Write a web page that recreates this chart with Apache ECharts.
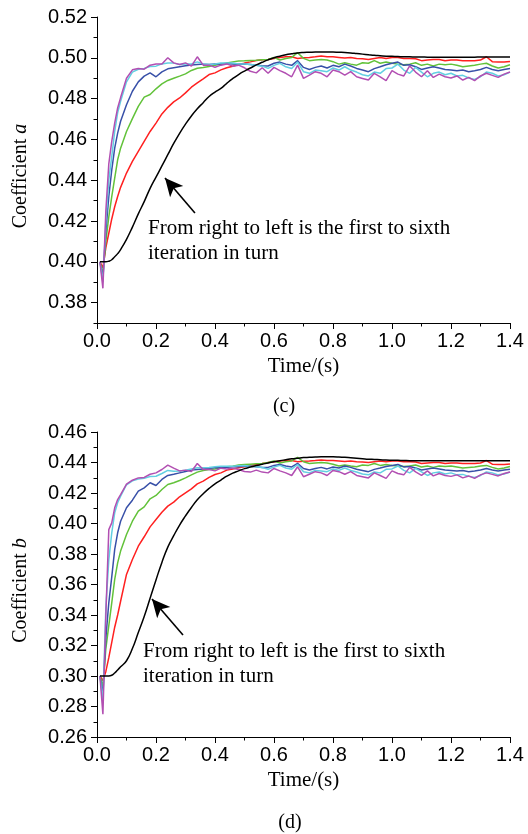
<!DOCTYPE html>
<html>
<head>
<meta charset="utf-8">
<script src="https://cdn.jsdelivr.net/npm/echarts@6/dist/echarts.min.js"></script>
<style>
  html, body { margin: 0; padding: 0; background: #fff; }
  #chart { width: 528px; height: 834px; }
</style>
</head>
<body>
<div id="chart"></div>
<script>
// time axis (s), shared by every curve
const time = [0.01,0.02,0.03,0.04,0.05,0.06,0.07,0.08,
  0.10,0.12,0.14,0.16,0.18,0.20,0.22,0.24,0.26,0.28,0.30,0.32,0.34,0.36,0.38,0.40,0.42,0.44,0.46,0.48,0.50,0.52,0.54,0.56,
  0.58,0.60,0.62,0.64,0.66,0.68,0.70,0.72,0.74,0.76,0.78,0.80,0.82,0.84,0.86,0.88,0.90,0.92,0.94,0.96,0.98,
  1.00,1.02,1.04,1.06,1.08,1.10,1.12,1.14,1.16,1.18,1.20,1.22,1.24,1.26,1.28,1.30,1.32,1.34,1.36,1.38,1.40]

const xTicks = [0, 1.4, 0.2]

// (c) coefficient a, iterations 1..6
const a1 = [0.400,0.400,0.400,0.4003,0.401,0.4025,0.404,0.406,
  0.411,0.417,0.4235,0.4295,0.436,0.4415,0.447,0.4525,0.458,0.463,0.4675,0.4715,0.475,0.478,0.481,0.4832,0.485,0.4875,0.4898,0.4918,0.4935,0.495,0.4965,0.4978,
  0.499,0.5,0.5008,0.5015,0.502,0.5024,0.5026,0.5027,0.5028,0.5028,0.5028,0.5028,0.5027,0.5026,0.5024,0.5021,0.5018,0.5015,0.5012,0.501,0.5008,
  0.5007,0.5006,0.5005,0.5005,0.5004,0.5004,0.5003,0.5003,0.5003,0.5003,0.5003,0.5003,0.5003,0.5003,0.5003,0.5004,0.5004,0.5004,0.5004,0.5004,0.5004]
const a2 = [0.400,0.397,0.407,0.414,0.421,0.427,0.432,0.4365,
  0.4435,0.4492,0.4541,0.459,0.4639,0.468,0.4725,0.4757,0.4784,0.4803,0.4828,0.4856,0.4877,0.4897,0.4918,0.4926,0.4941,0.4951,0.4959,0.4967,0.4974,0.498,0.4987,0.499,
  0.4992,0.4997,0.5002,0.5005,0.5005,0.4997,0.5000,0.5002,0.5005,0.5009,0.5005,0.5005,0.5002,0.4999,0.5002,0.4997,0.4995,0.4992,0.4997,0.5002,0.4997,
  0.5002,0.5002,0.4997,0.4997,0.4995,0.4986,0.4989,0.4992,0.4992,0.4986,0.4989,0.4989,0.4986,0.4986,0.4986,0.4989,0.5005,0.4981,0.4979,0.4979,0.4982]
const a3 = [0.400,0.394,0.410,0.422,0.432,0.441,0.450,0.4557,
  0.4639,0.4702,0.4762,0.4807,0.482,0.4848,0.4872,0.4889,0.49,0.491,0.4921,0.4938,0.4949,0.4952,0.4957,0.4964,0.497,0.4975,0.498,0.4984,0.4985,0.4987,0.4988,0.499,
  0.4992,0.5002,0.4989,0.4997,0.5002,0.5025,0.4997,0.4986,0.4989,0.4992,0.4989,0.4981,0.4969,0.4976,0.4969,0.4964,0.4976,0.4973,0.4986,0.4973,0.4979,
  0.4973,0.4969,0.4966,0.4969,0.4976,0.4963,0.4969,0.4960,0.4969,0.4966,0.4969,0.4963,0.4956,0.4960,0.4963,0.4969,0.4973,0.4960,0.4950,0.4956,0.4966]
const a4 = [0.400,0.392,0.415,0.432,0.445,0.4557,0.4631,0.4689,
  0.477,0.4836,0.4882,0.491,0.4926,0.4907,0.4931,0.4946,0.4951,0.4956,0.4961,0.4965,0.4967,0.4969,0.4967,0.497,0.4969,0.4972,0.497,0.4968,0.497,0.4967,0.4964,0.4961,
  0.4960,0.4973,0.4979,0.4969,0.4963,0.4986,0.4953,0.4943,0.4953,0.4960,0.4950,0.4963,0.4956,0.4969,0.4960,0.4948,0.4940,0.4932,0.4947,0.4956,0.4966,
  0.4973,0.4979,0.4963,0.4966,0.4956,0.4943,0.4950,0.4956,0.4950,0.4943,0.4940,0.4937,0.4940,0.4932,0.4937,0.4943,0.4953,0.4943,0.4937,0.4943,0.4948]
const a5 = [0.400,0.390,0.420,0.440,0.4516,0.4639,0.473,0.4787,
  0.4882,0.493,0.4944,0.4948,0.4957,0.4959,0.497,0.4975,0.4974,0.4967,0.497,0.497,0.498,0.497,0.4967,0.497,0.4975,0.4975,0.4975,0.497,0.497,0.4967,0.4964,0.4959,
  0.4948,0.4963,0.4973,0.4956,0.4948,0.4979,0.4932,0.4924,0.4940,0.4937,0.4932,0.4950,0.4940,0.4956,0.4940,0.4930,0.4917,0.4911,0.4930,0.4924,0.4947,
  0.4950,0.4969,0.4940,0.4924,0.4953,0.4930,0.4907,0.4924,0.4930,0.4917,0.4924,0.4911,0.4914,0.4901,0.4894,0.4907,0.4930,0.4924,0.4911,0.4917,0.4930]
const a6 = [0.400,0.387,0.425,0.448,0.459,0.468,0.4754,0.4805,
  0.490,0.4941,0.4948,0.4944,0.4964,0.497,0.497,0.500,0.4975,0.4967,0.4975,0.4959,0.5005,0.4964,0.4964,0.4954,0.4964,0.497,0.4959,0.4964,0.4951,0.4934,0.4926,0.4951,
  0.4924,0.4953,0.4937,0.4924,0.4907,0.4964,0.4899,0.4915,0.4932,0.4924,0.4907,0.4940,0.4932,0.4915,0.4932,0.4907,0.4899,0.4891,0.4924,0.4907,0.4888,
  0.4937,0.4920,0.4911,0.4960,0.4930,0.4907,0.4937,0.4904,0.4920,0.4907,0.4901,0.4911,0.4891,0.4904,0.4888,0.4911,0.4924,0.4914,0.4904,0.4920,0.4930]

// (d) coefficient b, iterations 1..6
const b1 = [0.300,0.300,0.300,0.300,0.3005,0.302,0.304,0.306,
  0.310,0.318,0.3285,0.339,0.351,0.363,0.3745,0.3845,0.392,0.399,0.405,0.4105,0.4155,0.4195,0.423,0.426,0.4285,0.431,0.433,0.4345,0.436,0.437,0.438,0.4388,
  0.4397,0.4405,0.4412,0.4418,0.4424,0.4428,0.4432,0.4434,0.4436,0.4437,0.4437,0.4437,0.4436,0.4434,0.4431,0.4428,0.4425,0.4422,0.442,0.4418,0.4416,
  0.4415,0.4414,0.4413,0.4412,0.4412,0.4412,0.4412,0.4412,0.4412,0.4412,0.4412,0.4412,0.4412,0.4412,0.4412,0.4412,0.4412,0.4412,0.4412,0.4412,0.4412]
const b2 = [0.300,0.297,0.303,0.312,0.322,0.332,0.340,0.349,
  0.3666,0.3764,0.3851,0.3913,0.3978,0.4026,0.4074,0.4114,0.414,0.4175,0.4201,0.4227,0.426,0.4278,0.4302,0.4321,0.4332,0.435,0.4358,0.4365,0.4372,0.438,0.4387,0.4393,
  0.4400,0.4405,0.4410,0.4413,0.4413,0.4405,0.4408,0.4410,0.4413,0.4417,0.4413,0.4413,0.4410,0.4407,0.4410,0.4405,0.4403,0.4400,0.4405,0.4410,0.4405,
  0.4410,0.4410,0.4405,0.4405,0.4403,0.4394,0.4397,0.4400,0.4400,0.4394,0.4397,0.4397,0.4394,0.4394,0.4394,0.4397,0.4413,0.4389,0.4387,0.4387,0.4390]
const b3 = [0.300,0.293,0.318,0.333,0.348,0.3633,0.3742,0.3819,
  0.3928,0.4015,0.4081,0.4109,0.4162,0.4184,0.4223,0.4256,0.4267,0.4282,0.4299,0.4319,0.4337,0.4348,0.4354,0.4358,0.4365,0.4372,0.4376,0.4383,0.4387,0.4389,0.4391,0.4393,
  0.4400,0.4410,0.4397,0.4405,0.4410,0.4433,0.4405,0.4394,0.4397,0.4400,0.4397,0.4389,0.4377,0.4384,0.4377,0.4372,0.4384,0.4381,0.4394,0.4381,0.4387,
  0.4381,0.4377,0.4374,0.4377,0.4384,0.4371,0.4377,0.4368,0.4377,0.4374,0.4377,0.4371,0.4364,0.4368,0.4371,0.4377,0.4381,0.4368,0.4358,0.4364,0.4374]
const b4 = [0.300,0.288,0.325,0.348,0.365,0.383,0.3939,0.4015,
  0.4103,0.4153,0.4212,0.4234,0.4267,0.4249,0.4289,0.4315,0.4323,0.4332,0.4341,0.435,0.4354,0.4358,0.4362,0.4365,0.4365,0.4369,0.4372,0.4372,0.4376,0.4376,0.4372,0.4368,
  0.4368,0.4381,0.4387,0.4377,0.4371,0.4394,0.4361,0.4351,0.4361,0.4368,0.4358,0.4371,0.4364,0.4377,0.4368,0.4356,0.4348,0.4340,0.4355,0.4364,0.4374,
  0.4381,0.4387,0.4371,0.4374,0.4364,0.4351,0.4358,0.4364,0.4358,0.4351,0.4348,0.4345,0.4348,0.4340,0.4345,0.4351,0.4361,0.4351,0.4345,0.4351,0.4356]
const b5 = [0.300,0.283,0.345,0.376,0.3939,0.407,0.4136,0.4179,
  0.4254,0.428,0.4291,0.4297,0.4308,0.431,0.4328,0.4348,0.4343,0.4345,0.435,0.4358,0.4365,0.4365,0.4367,0.4372,0.4376,0.4376,0.4376,0.4378,0.438,0.4376,0.4372,0.4367,
  0.4356,0.4371,0.4381,0.4364,0.4356,0.4387,0.4340,0.4332,0.4348,0.4345,0.4340,0.4358,0.4348,0.4364,0.4348,0.4338,0.4325,0.4319,0.4338,0.4332,0.4355,
  0.4358,0.4377,0.4348,0.4332,0.4361,0.4338,0.4315,0.4332,0.4338,0.4325,0.4332,0.4319,0.4322,0.4309,0.4302,0.4315,0.4338,0.4332,0.4319,0.4325,0.4338]
const b6 = [0.300,0.275,0.340,0.396,0.4004,0.4103,0.4157,0.419,
  0.4258,0.4284,0.4299,0.4302,0.4323,0.4332,0.4354,0.4383,0.4363,0.4345,0.435,0.4341,0.4393,0.4354,0.4354,0.4345,0.4363,0.4358,0.4363,0.4354,0.4341,0.4337,0.435,0.4337,
  0.4332,0.4361,0.4345,0.4332,0.4315,0.4372,0.4307,0.4323,0.4340,0.4332,0.4315,0.4348,0.4340,0.4323,0.4340,0.4315,0.4307,0.4299,0.4332,0.4315,0.4296,
  0.4345,0.4328,0.4319,0.4368,0.4338,0.4315,0.4345,0.4312,0.4328,0.4315,0.4309,0.4319,0.4299,0.4312,0.4296,0.4319,0.4332,0.4322,0.4312,0.4328,0.4338]

// y tick labels of panel (c) (axis starts at 0.37)
const yTicksA = [0.38, 0.40, 0.42, 0.44, 0.46, 0.48, 0.50, 0.52]
const yMinorA = [0.37, 0.39, 0.41, 0.43, 0.45, 0.47, 0.49, 0.51]

// arrow annotation: [tail, head] in data units
const arrowA = [[0.332, 0.4239], [0.2305, 0.4411]]
const arrowB = [[0.2915, 0.3269], [0.1864, 0.3505]]

const colors = ['#000000', '#ff2020', '#62c23a', '#3850a8', '#62cfe2', '#b24fb2']
const note = 'From right to left is the first to sixth\niteration in turn'

const pairs = (vals) => time.map((t, i) => [t, vals[i]])
const sans = 'Liberation Sans, Arial, sans-serif'
const serif = 'Liberation Serif, Times New Roman, serif'

function xAxisOf(idx) {
  return {
    type: 'value', gridIndex: idx, min: xTicks[0], max: xTicks[1], interval: xTicks[2],
    name: 'Time/(s)', nameLocation: 'middle', nameGap: 33,
    nameTextStyle: { fontFamily: serif, fontSize: 21, color: '#000' },
    axisLine: { lineStyle: { color: '#000', width: 1 } },
    axisTick: { length: 6, lineStyle: { color: '#000' } },
    minorTick: { show: true, splitNumber: 2, length: 3.5, lineStyle: { color: '#000' } },
    axisLabel: { fontFamily: sans, fontSize: 20, color: '#000', margin: 8, formatter: v => v.toFixed(1) },
    splitLine: { show: false }
  }
}

function yName(letter) {
  return {
    name: '{n|Coefficient }{i|' + letter + '}',
    nameLocation: 'middle', nameRotate: 90, nameGap: 66,
    nameTextStyle: {
      padding: [0, 12, 0, 0],
      rich: {
        n: { fontFamily: serif, fontSize: 20, color: '#000' },
        i: { fontFamily: serif, fontSize: 20, fontStyle: 'italic', color: '#000' }
      }
    }
  }
}

function lines(list, xi, yi, arrow) {
  return list.map((vals, k) => {
    const s = {
      type: 'line', xAxisIndex: xi, yAxisIndex: yi, data: pairs(vals),
      symbol: 'none', smooth: k === 0, z: k === 0 ? 3 : 2,
      lineStyle: { color: colors[k], width: 1.5 },
      itemStyle: { color: colors[k] }
    }
    if (k === 0) {
      s.markLine = {
        silent: true, animation: false,
        symbol: ['none', 'arrow'], symbolSize: [13, 18],
        lineStyle: { color: '#000', width: 1.6, type: 'solid' },
        label: { show: false },
        data: [[{ coord: arrow[0] }, { coord: arrow[1] }]]
      }
    }
    return s
  })
}

const chart = echarts.init(document.getElementById('chart'))
chart.setOption({
  animation: false,
  backgroundColor: '#fff',
  grid: [
    { left: 97, right: 18, top: 17, height: 306 },
    { left: 97, right: 18, top: 432, height: 305 }
  ],
  xAxis: [xAxisOf(0), xAxisOf(1)],
  yAxis: [
    Object.assign({
      type: 'value', gridIndex: 0, position: 'left', min: 0.37, max: 0.52,
      axisLine: { show: true, lineStyle: { color: '#000' } },
      axisTick: { show: true, length: 6, customValues: yTicksA, lineStyle: { color: '#000' } },
      axisLabel: { customValues: yTicksA, fontFamily: sans, fontSize: 20, color: '#000', margin: 10, formatter: v => v.toFixed(2) },
      splitLine: { show: false }
    }, yName('a')),
    Object.assign({
      type: 'value', gridIndex: 1, position: 'left', min: 0.26, max: 0.46, interval: 0.02,
      axisLine: { show: true, lineStyle: { color: '#000' } },
      axisTick: { show: true, length: 6, lineStyle: { color: '#000' } },
      minorTick: { show: true, splitNumber: 2, length: 3.5, lineStyle: { color: '#000' } },
      axisLabel: { fontFamily: sans, fontSize: 20, color: '#000', margin: 10, formatter: v => v.toFixed(2) },
      splitLine: { show: false }
    }, yName('b')),
    {
      type: 'value', gridIndex: 0, position: 'left', min: 0.37, max: 0.52,
      axisLine: { show: false },
      axisTick: { show: true, length: 3.5, customValues: yMinorA, lineStyle: { color: '#000' } },
      axisLabel: { show: false },
      splitLine: { show: false }
    }
  ],
  graphic: [
    { type: 'text', x: 148, y: 216, style: { text: note, fontFamily: serif, fontSize: 21, lineHeight: 25, fill: '#000', verticalAlign: 'top' } },
    { type: 'text', x: 143, y: 639, style: { text: note, fontFamily: serif, fontSize: 21, lineHeight: 25, fill: '#000', verticalAlign: 'top' } },
    { type: 'text', x: 284, y: 407, style: { text: '(c)', fontFamily: serif, fontSize: 20, fill: '#000', align: 'center', verticalAlign: 'middle' } },
    { type: 'text', x: 290, y: 823, style: { text: '(d)', fontFamily: serif, fontSize: 20, fill: '#000', align: 'center', verticalAlign: 'middle' } }
  ],
  series: [].concat(
    lines([a1, a2, a3, a4, a5, a6], 0, 0, arrowA),
    lines([b1, b2, b3, b4, b5, b6], 1, 1, arrowB)
  )
})
</script>
</body>
</html>
